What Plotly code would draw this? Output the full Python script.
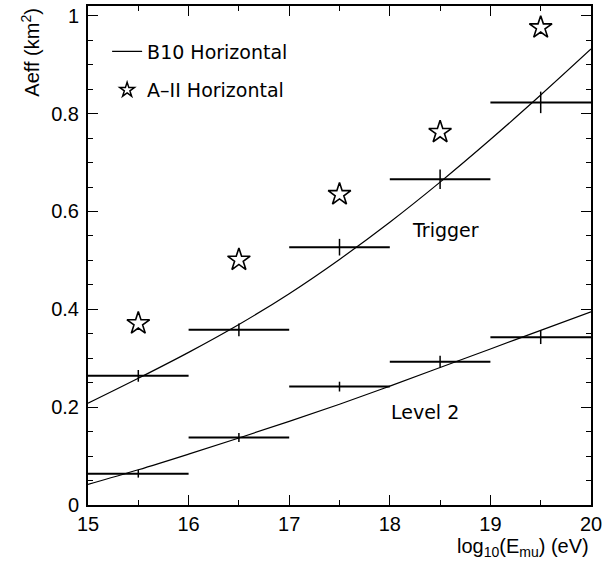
import plotly.graph_objects as go

# Bin centres (log10 E_mu)
bin_centres = [15.5, 16.5, 17.5, 18.5, 19.5]
bin_halfwidth = [0.5, 0.5, 0.5, 0.5, 0.5]

# B10 Horizontal histograms
trigger_vals = [0.264, 0.358, 0.527, 0.666, 0.823]
trigger_err = [0.012, 0.013, 0.017, 0.020, 0.022]
level2_vals = [0.064, 0.138, 0.242, 0.293, 0.343]
level2_err = [0.008, 0.009, 0.010, 0.012, 0.014]

# A-II Horizontal (trigger)
a2_vals = [0.371, 0.501, 0.635, 0.762, 0.976]

# Fitted curves
curve_x = [15.0, 15.5, 16.0, 16.5, 17.0, 17.5, 18.0, 18.5, 19.0, 19.5, 20.0]
trigger_curve = [0.208, 0.259, 0.312, 0.369, 0.432, 0.502, 0.578, 0.660, 0.747, 0.838, 0.932]
level2_curve = [0.042, 0.072, 0.104, 0.137, 0.171, 0.206, 0.243, 0.281, 0.319, 0.357, 0.395]

x_ticks = [15, 16, 17, 18, 19, 20]
y_ticks = [0, 0.2, 0.4, 0.6, 0.8, 1.0]
y_tick_text = ["0", "0.2", "0.4", "0.6", "0.8", "1"]

fig = go.Figure()

fig.add_trace(go.Scatter(
    x=curve_x, y=trigger_curve, mode="lines", line=dict(color="black", width=1.2, shape="spline"),
    name="B10 Horizontal", legendgroup="b10", showlegend=True))
fig.add_trace(go.Scatter(
    x=curve_x, y=level2_curve, mode="lines", line=dict(color="black", width=1.2, shape="spline"),
    name="B10 Horizontal", legendgroup="b10", showlegend=False))

for vals, errs in [(trigger_vals, trigger_err), (level2_vals, level2_err)]:
    fig.add_trace(go.Scatter(
        x=bin_centres, y=vals, mode="markers", marker=dict(size=1, color="black"),
        error_x=dict(type="data", array=bin_halfwidth, width=0, thickness=2, color="black"),
        error_y=dict(type="data", array=errs, width=0, thickness=1.5, color="black"),
        showlegend=False, hoverinfo="skip"))

fig.add_trace(go.Scatter(
    x=bin_centres, y=a2_vals, mode="markers",
    marker=dict(symbol="star-open", size=17, color="black", line=dict(width=1.6, color="black")),
    name="A\u2013II Horizontal", legendgroup="a2", showlegend=False))
# legend entry with the smaller star used in the key
fig.add_trace(go.Scatter(
    x=[None], y=[None], mode="markers",
    marker=dict(symbol="star-open", size=11, color="black", line=dict(width=1.5, color="black")),
    name="A\u2013II Horizontal", legendgroup="a2", showlegend=True))

axis_common = dict(
    showline=True, linecolor="black", linewidth=2, mirror="ticks",
    ticks="inside", ticklen=10, tickwidth=1, tickcolor="black",
    showgrid=False, zeroline=False,
    tickfont=dict(family="Liberation Sans, Arial", size=20, color="black"),
)

fig.update_xaxes(range=[15, 20], tickvals=x_ticks, ticktext=[str(v) for v in x_ticks],
                 minor=dict(dtick=0.5, tick0=15, ticks="inside", ticklen=5, tickcolor="black", showgrid=False),
                 ticklabelstandoff=0, **axis_common)
fig.update_yaxes(range=[0, 1.02], tickvals=y_ticks, ticktext=y_tick_text,
                 minor=dict(dtick=0.05, tick0=0, ticks="inside", ticklen=5, tickcolor="black", showgrid=False),
                 ticklabelstandoff=3, **axis_common)

fig.update_layout(
    width=611, height=562,
    margin=dict(l=88, r=20, t=4, b=57),
    paper_bgcolor="white", plot_bgcolor="white",
    legend=dict(x=0.038, y=0.947, xanchor="left", yanchor="top",
                bgcolor="rgba(0,0,0,0)", borderwidth=0,
                font=dict(family="DejaVu Sans", size=19, color="black"),
                traceorder="grouped", tracegroupgap=11),
    annotations=[
        dict(text="Trigger", x=18.55, y=0.562, xref="x", yref="y", showarrow=False,
             font=dict(family="DejaVu Sans", size=19, color="black")),
        dict(text="Level 2", x=18.35, y=0.191, xref="x", yref="y", showarrow=False,
             font=dict(family="DejaVu Sans", size=19, color="black")),
        dict(text="Aeff (km<sup>2</sup>)", textangle=-90, x=-0.115, y=1.0, xref="paper", yref="paper",
             xanchor="center", yanchor="top", showarrow=False,
             font=dict(family="Liberation Sans, Arial", size=20, color="black")),
        dict(text="log<sub>10</sub>(E<sub>mu</sub>) (eV)", x=1.0, y=-0.086, xref="paper", yref="paper",
             xanchor="right", yanchor="middle", showarrow=False,
             font=dict(family="Liberation Sans, Arial", size=20, color="black")),
    ],
)

fig.write_html("out.html", config={"displayModeBar": False},
               post_script="document.body.style.margin='0';")
